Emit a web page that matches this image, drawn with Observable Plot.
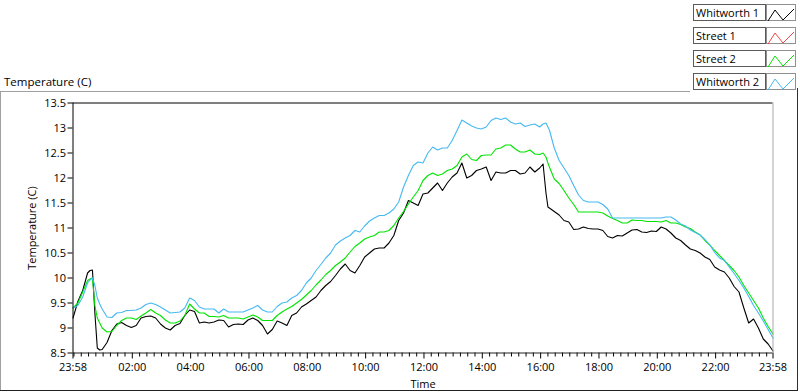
<!DOCTYPE html>
<html><head><meta charset="utf-8">
<script src="https://cdn.jsdelivr.net/npm/d3@7"></script>
<script src="https://cdn.jsdelivr.net/npm/@observablehq/plot@0.6"></script>
<style>
body{margin:0;background:#fff;font-family:"Open Sans",sans-serif;}
#wrap{position:relative;width:800px;height:392px;overflow:hidden;background:#fff;}
.line{position:absolute;}
#title{position:absolute;left:4px;top:76px;font-size:11.5px;line-height:12px;color:#000;white-space:nowrap;}
.lg-label{position:absolute;left:693px;width:69px;height:15px;border:1px solid #5a5a5a;font-size:11px;line-height:15px;padding-left:2px;box-sizing:content-box;color:#000;white-space:nowrap;background:#fff;}
.lg-swatch{position:absolute;left:766px;width:28px;height:15px;border:1px solid #909090;background:#fff;}
#chart{position:absolute;left:0;top:92px;}
</style></head><body><div id="wrap"></div><script>
// ---- data ----
const startClock = "23:58";
// minutes after the 23:58 start at which values were read
const minutes = [0,10,20,30,35,40,45,50,55,60,
 70,80,90,100,110,120,130,140,150,160,
 170,180,190,200,210,220,230,240,250,260,
 270,280,290,300,310,320,330,340,350,360,
 370,380,390,400,410,420,430,440,450,460,
 470,480,490,500,510,520,530,540,550,560,
 570,580,590,600,610,620,630,640,650,660,
 670,680,690,700,710,720,730,740,750,760,
 770,780,790,800,810,820,830,840,850,860,
 870,880,890,900,910,920,930,940,950,960,
 967,973,977,980,990,1000,1010,1020,1030,1040,
 1050,1060,1070,1080,1090,1100,1110,1120,1130,1140,
 1150,1160,1170,1180,1190,1200,1210,1220,1230,1240,
 1250,1260,1270,1280,1290,1300,1310,1320,1330,1340,
 1350,1360,1370,1380,1390,1400,1410,1420,1430,1440];
const whitworth1 = [9.2,9.53,9.75,10.1,10.15,10.16,9.3,8.6,8.56,8.57,
 8.71,8.95,9.08,9.11,9.05,9.01,9.05,9.2,9.23,9.24,
 9.2,9.08,9.0,8.96,9.05,9.09,9.25,9.36,9.33,9.1,
 9.12,9.1,9.12,9.16,9.15,9.02,9.07,9.08,9.07,9.16,
 9.2,9.15,9.05,8.88,8.97,9.14,9.1,9.05,9.25,9.3,
 9.42,9.48,9.55,9.62,9.75,9.85,9.93,10.05,10.18,10.28,
 10.15,10.1,10.25,10.42,10.5,10.58,10.6,10.6,10.7,10.85,
 11.15,11.3,11.55,11.5,11.45,11.68,11.7,11.8,11.9,11.75,
 11.9,12.02,12.1,12.3,12.0,12.05,12.15,12.18,12.22,11.95,
 12.12,12.1,12.1,12.15,12.15,12.08,12.1,12.22,12.12,12.2,
 12.28,11.7,11.42,11.4,11.33,11.26,11.15,11.12,10.97,10.98,
 11.02,10.99,10.98,10.98,10.95,10.83,10.8,10.85,10.84,10.9,
 10.96,10.97,10.92,10.91,10.94,10.93,11.02,10.98,10.9,10.8,
 10.75,10.66,10.58,10.55,10.5,10.42,10.37,10.22,10.16,10.12,
 10.0,9.83,9.72,9.4,9.1,9.18,9.0,8.78,8.68,8.54];
const street1 = []; // listed in the legend, no trace drawn
const street2 = [9.4,9.5,9.72,9.95,9.98,10.0,9.45,9.2,9.1,9.0,
 8.92,8.93,9.05,9.15,9.2,9.2,9.17,9.24,9.3,9.37,
 9.3,9.25,9.16,9.1,9.1,9.14,9.25,9.48,9.38,9.3,
 9.3,9.23,9.23,9.22,9.25,9.2,9.2,9.2,9.18,9.22,
 9.26,9.22,9.15,9.15,9.15,9.25,9.32,9.38,9.43,9.5,
 9.57,9.66,9.75,9.86,9.96,10.07,10.15,10.25,10.32,10.4,
 10.52,10.63,10.7,10.78,10.82,10.85,10.92,10.92,10.95,11.05,
 11.2,11.33,11.48,11.62,11.75,11.95,12.05,12.1,12.05,12.08,
 12.15,12.18,12.25,12.42,12.48,12.37,12.35,12.45,12.46,12.46,
 12.58,12.6,12.66,12.66,12.58,12.52,12.52,12.56,12.48,12.47,
 12.5,12.42,12.3,12.22,11.98,11.89,11.75,11.6,11.47,11.32,
 11.32,11.32,11.32,11.32,11.3,11.24,11.19,11.15,11.1,11.1,
 11.16,11.15,11.15,11.13,11.13,11.13,11.12,11.15,11.1,11.1,
 11.07,11.02,10.99,10.92,10.86,10.75,10.66,10.55,10.45,10.35,
 10.25,10.15,10.02,9.85,9.7,9.55,9.4,9.2,9.03,8.88];
const whitworth2 = [9.4,9.45,9.62,9.9,9.96,10.0,9.85,9.6,9.48,9.38,
 9.22,9.21,9.3,9.31,9.35,9.35,9.36,9.4,9.47,9.5,
 9.47,9.42,9.36,9.3,9.31,9.32,9.4,9.6,9.55,9.42,
 9.38,9.38,9.38,9.3,9.38,9.32,9.32,9.32,9.32,9.36,
 9.4,9.45,9.36,9.32,9.32,9.43,9.5,9.52,9.6,9.65,
 9.75,9.9,10.0,10.15,10.27,10.4,10.5,10.66,10.74,10.8,
 10.85,10.95,10.92,11.04,11.14,11.2,11.25,11.25,11.3,11.38,
 11.52,11.82,12.05,12.25,12.32,12.3,12.5,12.62,12.56,12.6,
 12.6,12.75,12.95,13.16,13.1,13.04,13.0,12.98,13.02,13.15,
 13.2,13.17,13.2,13.12,13.08,13.1,13.03,13.06,13.08,13.02,
 13.08,13.1,13.02,12.96,12.6,12.35,12.2,12.05,11.85,11.66,
 11.55,11.52,11.52,11.52,11.47,11.38,11.2,11.2,11.2,11.2,
 11.2,11.2,11.2,11.2,11.2,11.2,11.2,11.22,11.22,11.16,
 11.08,11.04,10.96,10.91,10.86,10.77,10.66,10.51,10.4,10.35,
 10.22,10.09,9.95,9.8,9.63,9.45,9.3,9.14,8.97,8.8];
const seriesNames = ["Whitworth 1","Street 1","Street 2","Whitworth 2"];
const seriesColors = ["#000000","#f04848","#00e400","#45b9f2"];
const yTicks = [8.5,9,9.5,10,10.5,11,11.5,12,12.5,13,13.5];
const xTickLabels = ["23:58","02:00","04:00","06:00","08:00","10:00","12:00","14:00","16:00","18:00","20:00","22:00","23:58"];
const titleText = "Temperature (C)";
const yLabel = "Temperature (C)";
const xLabel = "Time";

// ---- build ----
const [sh, sm] = startClock.split(":").map(Number);
const t0 = new Date(2000, 0, 1, sh, sm);
const tEnd = new Date(t0.getTime() + 24 * 3600 * 1000);
const at = m => new Date(t0.getTime() + m * 60000);
const majorTicks = xTickLabels.map((s, i) => {
  if (i === 0) return t0;
  if (i === xTickLabels.length - 1) return tEnd;
  const [h, mm] = s.split(":").map(Number);
  return new Date(2000, 0, 2, h, mm);
});
const minorTicks = d3.timeMinute.every(15).range(new Date(t0.getTime() + 60000), tEnd)
  .filter(d => !majorTicks.some(t => +t === +d));

const allSeries = [whitworth1, street1, street2, whitworth2];
const lineMarks = allSeries.map((vals, k) =>
  vals.length ? Plot.line(minutes.map((m, i) => ({date: at(m), value: vals[i]})),
    {x: "date", y: "value", stroke: seriesColors[k], strokeWidth: 1.1}) : null
).filter(Boolean);

const svg = Plot.plot({
  width: 800, height: 298,
  marginLeft: 72.5, marginRight: 27.5, marginTop: 10.5, marginBottom: 37.5,
  style: {fontFamily: "Open Sans", fontSize: "11px", color: "#000", background: "transparent", overflow: "visible"},
  x: {type: "time", domain: [t0, tEnd]},
  y: {domain: [8.5, 13.5]},
  marks: [
    Plot.axisX(minorTicks, {tickSize: 4, tickFormat: () => "", label: null, stroke: "#000"}),
    Plot.axisX(majorTicks, {tickSize: 6, tickPadding: 4, tickFormat: (d, i) => xTickLabels[i],
      label: xLabel, labelAnchor: "center", labelArrow: "none", labelOffset: 35, stroke: "#000", fill: "#000"}),
    Plot.axisY(yTicks, {tickSize: 5, tickPadding: 2, tickFormat: d => String(d),
      label: yLabel, labelAnchor: "center", labelArrow: "none", labelOffset: 45, stroke: "#000", fill: "#000"}),
    ...lineMarks,
    Plot.ruleY([13.5], {stroke: "#000"}),
    Plot.ruleY([8.5], {stroke: "#222"}),
    Plot.ruleX([t0], {stroke: "#000"}),
    Plot.ruleX([tEnd], {stroke: "#a8a8a8"})
  ]
});
svg.id = "chart";

const wrap = document.getElementById("wrap");
function addLine(l, t, w, h, c) {
  const d = document.createElement("div");
  d.className = "line";
  Object.assign(d.style, {left: l + "px", top: t + "px", width: w + "px", height: h + "px", background: c});
  wrap.appendChild(d);
}
const title = document.createElement("div");
title.id = "title"; title.textContent = titleText;
wrap.appendChild(title);

const rowTops = [4, 27, 50, 73];
seriesNames.forEach((name, k) => {
  const lab = document.createElement("div");
  lab.className = "lg-label"; lab.style.top = rowTops[k] + "px"; lab.textContent = name;
  wrap.appendChild(lab);
  const sw = document.createElement("div");
  sw.className = "lg-swatch"; sw.style.top = rowTops[k] + "px";
  sw.innerHTML = `<svg width="28" height="15"><polyline points="1,14 8,3 16,13 27,2" fill="none" stroke="${seriesColors[k]}" stroke-width="1"/></svg>`;
  wrap.appendChild(sw);
});

wrap.appendChild(svg);
// outer panel frame
addLine(0, 91, 690, 1, "#a0a0a0");
addLine(0, 91, 1, 300, "#a0a0a0");
addLine(797, 88, 1, 303, "#303030");
addLine(0, 390, 798, 1, "#202020");
</script></body></html>
